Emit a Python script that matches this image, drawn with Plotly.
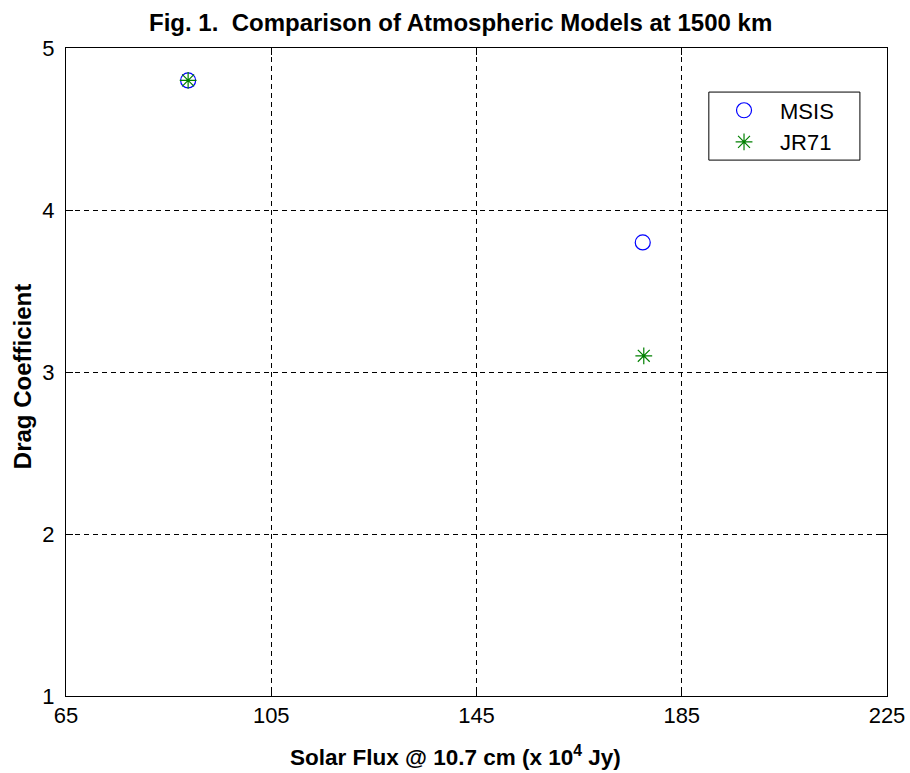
import plotly.graph_objects as go

msis_x = [88.8, 177.4]
msis_y = [4.8, 3.8]
jr71_x = [88.8, 177.6]
jr71_y = [4.8, 3.1]
x_ticks = [65, 105, 145, 185, 225]
y_ticks = [1, 2, 3, 4, 5]

font_family = "Liberation Sans, Arial, sans-serif"

fig = go.Figure()
fig.add_trace(go.Scatter(x=msis_x, y=msis_y, mode="markers", name="MSIS", legendgroup="a",
                         marker=dict(symbol="circle-open", size=15, color="#0000ff",
                                     line=dict(width=1.2, color="#0000ff"))))
fig.add_trace(go.Scatter(x=jr71_x, y=jr71_y, mode="markers", name="JR71", legendgroup="b",
                         marker=dict(symbol="asterisk-open", size=14, color="#008000",
                                     line=dict(width=1.2, color="#008000"))))

axis_common = dict(showline=True, linecolor="black", linewidth=1, mirror="ticks",
                   ticks="inside", ticklen=7, tickcolor="black", automargin=False,
                   showgrid=True, gridcolor="black", gridwidth=0.8, griddash="5px,4px",
                   zeroline=False, tickfont=dict(family=font_family, size=22, color="black"))

fig.update_xaxes(range=[65, 225], tickvals=x_ticks, **axis_common)
fig.update_yaxes(range=[1, 5], tickvals=y_ticks, ticklabelstandoff=6, **axis_common)

fig.update_layout(
    width=910, height=773,
    margin=dict(l=66, r=23, t=48, b=77),
    plot_bgcolor="white", paper_bgcolor="white",
    font=dict(family=font_family, color="black"),
    showlegend=True,
    legend=dict(x=0.782, y=0.936, xanchor="left", yanchor="top",
                borderwidth=0, bgcolor="rgba(0,0,0,0)",
                font=dict(size=22, family=font_family),
                itemwidth=62, tracegroupgap=0),
    shapes=[
        dict(type="rect", xref="paper", yref="paper",
             x0=0.783, x1=0.967, y0=0.827, y1=0.932,
             line=dict(color="black", width=1), fillcolor="white", layer="below"),
    ],
    annotations=[
        dict(text="<b>Fig. 1.  Comparison of Atmospheric Models at 1500 km</b>",
             x=0.48, y=1.0, xref="paper", yref="paper", yshift=26,
             showarrow=False, font=dict(size=24, family=font_family), xanchor="center", yanchor="middle"),
        dict(text="<b>Solar Flux @ 10.7 cm (x 10<sup>4</sup> Jy)</b>",
             x=0.474, y=0, xref="paper", yref="paper", yshift=-60,
             showarrow=False, font=dict(size=22.5, family=font_family), xanchor="center", yanchor="middle"),
        dict(text="<b>Drag Coefficient</b>", textangle=-90,
             x=0, y=0.492, xref="paper", yref="paper", xshift=-44,
             showarrow=False, font=dict(size=24, family=font_family), xanchor="center", yanchor="middle"),
    ],
)

fig.write_html("out.html")
